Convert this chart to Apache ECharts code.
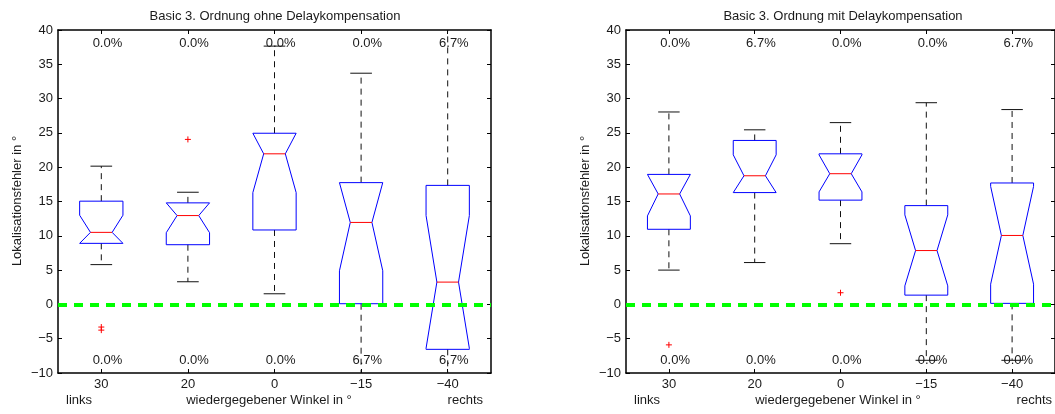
<!DOCTYPE html>
<html>
<head>
<meta charset="utf-8">
<script src="https://cdn.jsdelivr.net/npm/echarts@6/dist/echarts.min.js"></script>
<style>
html,body{margin:0;padding:0;background:#fff;}
#chart{width:1055px;height:414px;}
</style>
</head>
<body>
<div id="chart"></div>
<script>
// ---- data ----
const categories = ['30', '20', '0', '\u221215', '\u221240'];
const yTicks = [-10, -5, 0, 5, 10, 15, 20, 25, 30, 35, 40];

// Basic 3. Ordnung ohne Delaykompensation
const ohneQ1 = [8.9, 8.7, 10.85, 0.1, -6.55];
const ohneQ3 = [15.05, 14.8, 24.95, 17.75, 17.35];
const ohneMedian = [10.5, 12.95, 21.95, 11.95, 3.25];
const ohneNotchLo = [8.0, 10.45, 16.3, 4.9, -6.4];
const ohneNotchHi = [13.0, 15.4, 27.7, 19.1, 12.95];
const ohneWhiskerLo = [5.8, 3.3, 1.55, -13, -14];
const ohneWhiskerHi = [20.15, 16.35, 37.65, 33.7, 45];
const ohneOutliers = [[0, -3.3], [0, -3.75], [1, 24.05]];
const ohnePctTop = ['0.0%', '0.0%', '0.0%', '0.0%', '6.7%'];
const ohnePctBottom = ['0.0%', '0.0%', '0.0%', '6.7%', '6.7%'];

// Basic 3. Ordnung mit Delaykompensation
const mitQ1 = [10.95, 16.3, 15.2, 1.35, 0.15];
const mitQ3 = [18.95, 23.9, 21.95, 14.4, 17.7];
const mitMedian = [16.1, 18.75, 19.05, 7.85, 10.05];
const mitNotchLo = [12.9, 15.7, 16.4, 2.7, 2.95];
const mitNotchHi = [19.3, 21.8, 21.8, 13.05, 17.2];
const mitWhiskerLo = [5.0, 6.1, 8.85, -8.15, -8.15];
const mitWhiskerHi = [28.05, 25.45, 26.5, 29.4, 28.4];
const mitOutliers = [[0, -5.9], [2, 1.7]];
const mitPctTop = ['0.0%', '6.7%', '0.0%', '0.0%', '6.7%'];
const mitPctBottom = ['0.0%', '0.0%', '0.0%', '0.0%', '0.0%'];

const pctTopY = 38;
const pctBottomY = -8.1;
const refLineY = 0;

// ---- styling ----
const FONT = 'Liberation Sans, Arial, Helvetica, sans-serif';
const FS = 13;
const TXT = '#1a1a1a';

const chart = echarts.init(document.getElementById('chart'), null, {renderer: 'canvas'});

function fmtMinus(v) { return String(v).replace('-', '\u2212'); }

function boxRows(q1, q3, med, nlo, nhi, wlo, whi) {
  return q1.map((_, i) => [i, q1[i], q3[i], med[i], nlo[i], nhi[i], wlo[i], whi[i]]);
}

function renderBox(params, api) {
  const idx = api.value(0);
  const q1 = api.value(1), q3 = api.value(2), med = api.value(3);
  const nlo = Math.max(api.value(4), q1), nhi = Math.min(api.value(5), q3);
  const wlo = api.value(6), whi = api.value(7);
  const band = api.size([1, 0])[0];
  const cx = api.coord([idx, med])[0];
  const Y = v => api.coord([idx, v])[1];
  const w = band * 0.25, nw = band * 0.125, cw = band * 0.125;
  const dash = {stroke: '#111', lineWidth: 1, lineDash: [6, 5], fill: null};
  const solid = {stroke: '#111', lineWidth: 1, fill: null};
  const pts = [
    [cx - w, Y(q1)], [cx - w, Y(nlo)], [cx - nw, Y(med)], [cx - w, Y(nhi)], [cx - w, Y(q3)],
    [cx + w, Y(q3)], [cx + w, Y(nhi)], [cx + nw, Y(med)], [cx + w, Y(nlo)], [cx + w, Y(q1)]
  ];
  return {
    type: 'group',
    children: [
      {type: 'line', shape: {x1: cx, y1: Y(q3), x2: cx, y2: Y(whi)}, style: dash},
      {type: 'line', shape: {x1: cx, y1: Y(q1), x2: cx, y2: Y(wlo)}, style: dash},
      {type: 'line', shape: {x1: cx - cw, y1: Y(whi), x2: cx + cw, y2: Y(whi)}, style: solid},
      {type: 'line', shape: {x1: cx - cw, y1: Y(wlo), x2: cx + cw, y2: Y(wlo)}, style: solid},
      {type: 'polygon', shape: {points: pts}, style: {fill: null, stroke: '#0000ff', lineWidth: 1}},
      {type: 'line', shape: {x1: cx - nw, y1: Y(med), x2: cx + nw, y2: Y(med)}, style: {stroke: '#ff0000', lineWidth: 1}}
    ]
  };
}

function renderPlus(params, api) {
  const p = api.coord([api.value(0), api.value(1)]);
  const s = 3;
  const st = {stroke: '#ff0000', lineWidth: 1};
  return {type: 'group', children: [
    {type: 'line', shape: {x1: p[0] - s, y1: p[1], x2: p[0] + s, y2: p[1]}, style: st},
    {type: 'line', shape: {x1: p[0], y1: p[1] - s, x2: p[0], y2: p[1] + s}, style: st}
  ]};
}

function textSeries(g, top, bottom) {
  const rows = [];
  top.forEach((t, i) => rows.push([i, pctTopY]));
  bottom.forEach((t, i) => rows.push([i, pctBottomY]));
  const labels = top.concat(bottom);
  return {
    type: 'custom', xAxisIndex: g * 2, yAxisIndex: g * 2, clip: false, silent: true, z: 5,
    data: rows, encode: {x: 0, y: 1},
    renderItem: function (params, api) {
      const idx = api.value(0);
      const band = api.size([1, 0])[0];
      const p = api.coord([idx, api.value(1)]);
      return {type: 'text', x: p[0] - 0.1 * band, y: p[1], style: {
        text: labels[params.dataIndex], fill: TXT, fontSize: FS, fontFamily: FONT,
        align: 'left', verticalAlign: 'middle'}};
    }
  };
}

function axesFor(g) {
  const line = {show: true, onZero: false, lineStyle: {color: '#000', width: 1.5}};
  const tick = {show: true, inside: true, length: 4, lineStyle: {color: '#000', width: 1}};
  return {
    x: [
      {type: 'category', gridIndex: g, data: categories, position: 'bottom', boundaryGap: true,
       axisLine: line, axisTick: Object.assign({alignWithLabel: true}, tick),
       axisLabel: {margin: 5, color: TXT, fontSize: FS, fontFamily: FONT}, splitLine: {show: false}},
      {type: 'category', gridIndex: g, data: categories, position: 'top', boundaryGap: true,
       axisLine: line, axisTick: Object.assign({alignWithLabel: true}, tick),
       axisLabel: {show: false}, splitLine: {show: false}}
    ],
    y: [
      {type: 'value', gridIndex: g, min: yTicks[0], max: yTicks[yTicks.length - 1], interval: 5, position: 'left',
       axisLine: line, axisTick: tick,
       axisLabel: {margin: 5, color: TXT, fontSize: FS, fontFamily: FONT, formatter: fmtMinus},
       splitLine: {show: false}},
      {type: 'value', gridIndex: g, min: yTicks[0], max: yTicks[yTicks.length - 1], interval: 5, position: 'right',
       axisLine: line, axisTick: tick, axisLabel: {show: false}, splitLine: {show: false}}
    ]
  };
}

const a0 = axesFor(0), a1 = axesFor(1);

function boxSeries(g, rows) {
  return {
    type: 'custom', xAxisIndex: g * 2, yAxisIndex: g * 2, clip: true, silent: true, z: 2,
    data: rows, encode: {x: 0, y: 3}, renderItem: renderBox,
    markLine: {
      silent: true, symbol: 'none', label: {show: false}, z: 10,
      lineStyle: {color: '#00ff00', width: 4, type: [9, 7]},
      data: [{yAxis: refLineY}]
    }
  };
}

function outlierSeries(g, pts) {
  return {type: 'custom', xAxisIndex: g * 2, yAxisIndex: g * 2, clip: true, silent: true, z: 3,
    data: pts, encode: {x: 0, y: 1}, renderItem: renderPlus};
}

const titleStyle = (t) => ({text: t, fill: TXT, fontSize: FS, fontFamily: FONT, align: 'center', verticalAlign: 'middle'});
const lblStyle = (t, al) => ({text: t, fill: TXT, fontSize: FS, fontFamily: FONT, align: al, verticalAlign: 'middle'});

const option = {
  backgroundColor: '#fff',
  animation: false,
  grid: [
    {left: 58, top: 30, width: 433, height: 343, containLabel: false},
    {left: 626, top: 30, width: 434, height: 343, containLabel: false}
  ],
  xAxis: a0.x.concat(a1.x),
  yAxis: a0.y.concat(a1.y),
  series: [
    boxSeries(0, boxRows(ohneQ1, ohneQ3, ohneMedian, ohneNotchLo, ohneNotchHi, ohneWhiskerLo, ohneWhiskerHi)),
    outlierSeries(0, ohneOutliers),
    textSeries(0, ohnePctTop, ohnePctBottom),
    boxSeries(1, boxRows(mitQ1, mitQ3, mitMedian, mitNotchLo, mitNotchHi, mitWhiskerLo, mitWhiskerHi)),
    outlierSeries(1, mitOutliers),
    textSeries(1, mitPctTop, mitPctBottom)
  ],
  graphic: [
    {type: 'text', x: 275, y: 16, style: titleStyle('Basic 3. Ordnung ohne Delaykompensation')},
    {type: 'text', x: 843, y: 16, style: titleStyle('Basic 3. Ordnung mit Delaykompensation')},
    {type: 'text', x: 17, y: 201, rotation: Math.PI / 2, style: titleStyle('Lokalisationsfehler in \u00b0')},
    {type: 'text', x: 585, y: 201, rotation: Math.PI / 2, style: titleStyle('Lokalisationsfehler in \u00b0')},
    {type: 'text', x: 66, y: 400, style: lblStyle('links', 'left')},
    {type: 'text', x: 269, y: 400, style: lblStyle('wiedergegebener Winkel in \u00b0', 'center')},
    {type: 'text', x: 483, y: 400, style: lblStyle('rechts', 'right')},
    {type: 'text', x: 634, y: 400, style: lblStyle('links', 'left')},
    {type: 'text', x: 838, y: 400, style: lblStyle('wiedergegebener Winkel in \u00b0', 'center')},
    {type: 'text', x: 1052, y: 400, style: lblStyle('rechts', 'right')}
  ]
};
chart.setOption(option);
</script>
</body>
</html>
